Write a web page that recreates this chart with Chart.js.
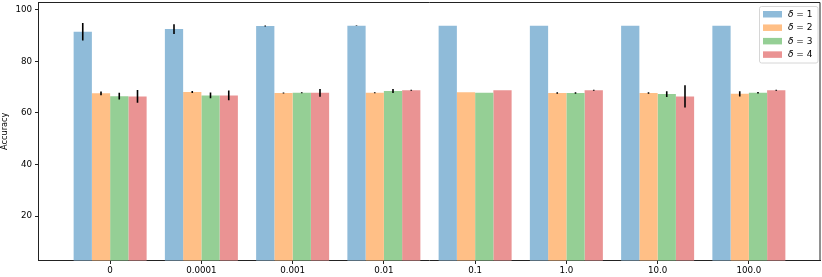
<!DOCTYPE html>
<html>
<head>
<meta charset="utf-8">
<script src="https://cdn.jsdelivr.net/npm/chart.js@4"></script>
<style>
  html, body { margin: 0; padding: 0; background: #fff; }
  #wrap { width: 822px; height: 277px; }
</style>
</head>
<body>
<div id="wrap"><canvas id="accChart" width="822" height="277"></canvas></div>
<script>
const categories = ["0", "0.0001", "0.001", "0.01", "0.1", "1.0", "10.0", "100.0"];
const yTicks = [20, 40, 60, 80, 100];
const seriesNames = ["1", "2", "3", "4"];

const acc1 = [91.5, 92.5, 93.7, 93.8, 93.8, 93.8, 93.8, 93.8];
const err1 = [3.4, 1.9, 0.2, 0.1, 0, 0, 0, 0];
const acc2 = [67.6, 68.1, 67.7, 67.8, 68.0, 67.7, 67.7, 67.4];
const err2 = [0.7, 0.4, 0.2, 0.2, 0, 0.3, 0.3, 1.0];
const acc3 = [66.5, 66.8, 67.8, 68.5, 67.8, 67.7, 67.3, 67.8];
const err3 = [1.3, 1.1, 0.2, 0.8, 0, 0.3, 1.1, 0.3];
const acc4 = [66.4, 66.8, 67.8, 68.8, 68.8, 68.8, 66.4, 68.8];
const err4 = [2.5, 1.9, 1.5, 0.2, 0, 0.2, 4.3, 0.2];

const colors = ["#8fbbd9", "#ffbf86", "#95cf95", "#ea9393"];
const FONT = "DejaVu Sans";

function makeSet(i, vals, errs) {
    return {
        label: seriesNames[i],
        data: vals.map((v, k) => ({ x: k, y: v })),
        errors: errs,
        backgroundColor: colors[i],
        borderWidth: 0,
        categoryPercentage: 0.8,
        barPercentage: 1.0
    };
}

// error bars drawn on top of the bars
const errorBars = {
    id: "errorBars",
    afterDatasetsDraw(chart) {
        const ctx = chart.ctx;
        const y = chart.scales.y;
        const area = chart.chartArea;
        ctx.save();
        ctx.beginPath();
        ctx.rect(area.left, area.top, area.width, area.height);
        ctx.clip();
        ctx.strokeStyle = "#000";
        ctx.lineWidth = 1.6;
        chart.data.datasets.forEach((ds, di) => {
            const meta = chart.getDatasetMeta(di);
            meta.data.forEach((bar, k) => {
                const e = ds.errors[k];
                if (!e) return;
                const v = ds.data[k].y;
                ctx.beginPath();
                ctx.moveTo(bar.x, y.getPixelForValue(v - e));
                ctx.lineTo(bar.x, y.getPixelForValue(v + e));
                ctx.stroke();
            });
        });
        ctx.restore();
    }
};

// top/right spines and matplotlib-like legend box
const frameAndLegend = {
    id: "frameAndLegend",
    afterDraw(chart) {
        const ctx = chart.ctx;
        const a = chart.chartArea;
        ctx.save();
        ctx.strokeStyle = "#222";
        ctx.lineWidth = 1;
        ctx.beginPath();
        ctx.moveTo(a.left, a.top + 0.5);
        ctx.lineTo(a.right - 0.5, a.top + 0.5);
        ctx.lineTo(a.right - 0.5, a.bottom);
        ctx.stroke();

        const lx = 759.5, ly = 6.5, lw = 58.5, lh = 56.5;
        ctx.fillStyle = "rgba(255,255,255,0.8)";
        ctx.strokeStyle = "#d6d6d6";
        ctx.beginPath();
        ctx.roundRect(lx, ly, lw, lh, 2);
        ctx.fill();
        ctx.stroke();

        chart.data.datasets.forEach((ds, i) => {
            const cy = 14 + i * 13.45;
            ctx.fillStyle = ds.backgroundColor;
            ctx.fillRect(763, cy - 3, 19, 6.5);
            ctx.fillStyle = "#000";
            ctx.textBaseline = "middle";
            ctx.textAlign = "left";
            ctx.font = "italic 9px " + FONT;
            ctx.fillText("\u03b4", 788, cy + 0.5);
            const w = ctx.measureText("\u03b4").width;
            ctx.font = "9px " + FONT;
            ctx.fillText(" = " + ds.label, 788 + w, cy + 0.5);
        });
        ctx.restore();
    }
};

const ctx = document.getElementById("accChart");

new Chart(ctx, {
    type: "bar",
    data: {
        datasets: [
            makeSet(0, acc1, err1),
            makeSet(1, acc2, err2),
            makeSet(2, acc3, err3),
            makeSet(3, acc4, err4)
        ]
    },
    options: {
        responsive: false,
        animation: false,
        layout: { padding: { left: 0, right: 1.5, top: 2, bottom: 0 } },
        plugins: {
            legend: { display: false },
            tooltip: { enabled: false }
        },
        scales: {
            x: {
                type: "linear",
                min: -0.785,
                max: 7.785,
                offset: false,
                grid: { offset: false, drawOnChartArea: false, drawTicks: true, tickLength: 3.5, tickColor: "#222" },
                border: { display: true, color: "#222", width: 1 },
                ticks: {
                    color: "#000",
                    font: { family: FONT, size: 8.7 },
                    padding: 1.5,
                    maxRotation: 0,
                    callback: v => categories[v]
                },
                afterBuildTicks: s => { s.ticks = categories.map((c, i) => ({ value: i })); },
                afterFit: s => { s.height = 16.5; s.paddingLeft = 0; s.paddingRight = 0; }
            },
            y: {
                min: 2.8,
                max: 103,
                grid: { drawOnChartArea: false, drawTicks: true, tickLength: 3.5, tickColor: "#222" },
                border: { display: true, color: "#222", width: 1 },
                ticks: {
                    color: "#000",
                    font: { family: FONT, size: 8.7 },
                    padding: 3
                },
                title: {
                    display: true,
                    text: "Accuracy",
                    color: "#000",
                    font: { family: FONT, size: 8.2 },
                    padding: 0
                },
                afterBuildTicks: s => { s.ticks = yTicks.map(v => ({ value: v })); },
                afterFit: s => { s.width = 38.5; s.paddingTop = 0; s.paddingBottom = 0; }
            }
        }
    },
    plugins: [errorBars, frameAndLegend]
});
</script>
</body>
</html>
